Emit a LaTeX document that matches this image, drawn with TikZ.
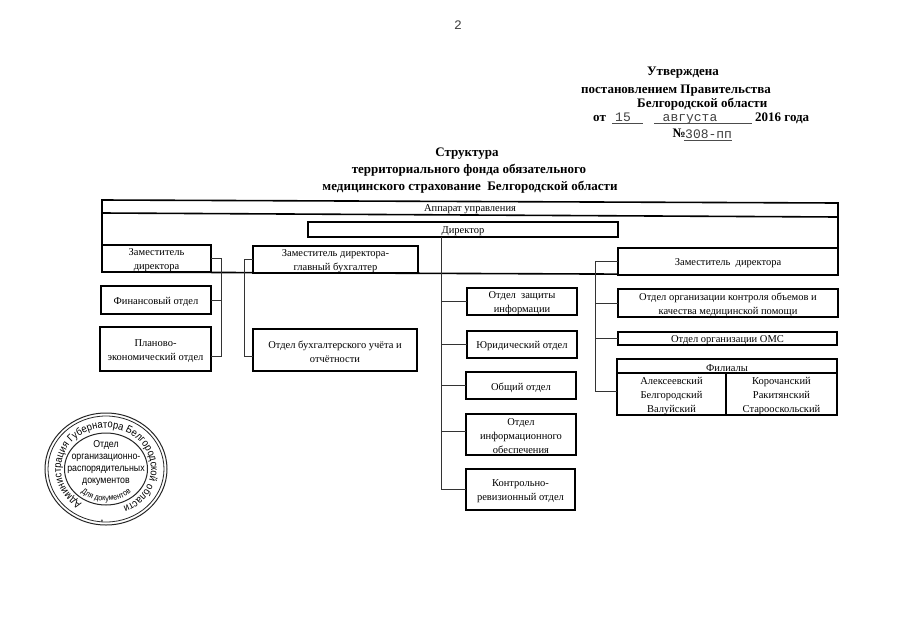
\documentclass[tikz,border=0pt]{standalone}
\usepackage{fontspec}
\setmainfont{Liberation Serif}
\newfontfamily\typed{Liberation Mono}
\newfontfamily\stampfont[FakeStretch=0.88]{Liberation Sans}
\usetikzlibrary{decorations.text}
\tikzset{
  bx/.style={draw=black,line width=1.7pt,fill=white,inner sep=0pt,outer sep=0pt},
  txt/.style={inner sep=0pt,align=center,font=\fontsize{10.5}{14}\selectfont},
  head/.style={inner sep=0pt,anchor=base,font=\fontsize{13}{14}\selectfont\bfseries},
  wire/.style={draw=black!80,line width=0.9pt},
  ink/.style={draw=black!85},
  typedtext/.style={inner sep=0pt,anchor=base,font=\fontsize{13}{14}\typed\selectfont,text=black!75},
  uline/.style={draw=black!70,line width=0.7pt}
}
\newcommand{\bxn}[6]{\node[bx,minimum width={(#4-#2)*1pt},minimum height={(#5-#3)*1pt}] (#1) at ({(#2+#4)/2},{(#3+#5)/2}) {};
\node[txt,yshift=-2pt] (#1t) at (#1.center) {#6};}
\begin{document}
\begin{tikzpicture}[x=1pt,y=-1pt]
\useasboundingbox[fill=white] (0,0) rectangle (905,640);
% header
\node[typedtext] (pg) at (458,29) {2};
\node[head] (h1) at (683,75) {Утверждена};
\node[head,anchor=base west] (h2) at (581,93) {постановлением Правительства};
\node[head,anchor=base west] (h3) at (637,107) {Белгородской области};
\node[head,anchor=base west] (h4a) at (593,121) {от};
\node[typedtext] (d1) at (623,121) {15};
\node[typedtext] (d2) at (690,121) {августа};
\node[head,anchor=base west] (h4b) at (755,121) {2016 года};
\node[head,anchor=base east] (n1) at (686,137) {№};
\node[typedtext,anchor=base west] (n2) at (685,138) {308-пп};
\coordinate (u1a) at (612,123); \coordinate (u1b) at (643,123);
\coordinate (u2a) at (654,123); \coordinate (u2b) at (752,123);
\coordinate (u3a) at (684,140); \coordinate (u3b) at (732,140);
\draw[uline] (u1a)--(u1b) (u2a)--(u2b) (u3a)--(u3b);
\node[head] (t1) at (467,156) {Структура};
\node[head] (t2) at (469,173) {территориального фонда обязательного};
\node[head] (t3) at (470,190) {медицинского страхование\ \ Белгородской области};
% frame
\coordinate (fa) at (102,200); \coordinate (fb) at (838,203);
\coordinate (fc) at (838,217); \coordinate (fd) at (102,213);
\coordinate (fe) at (838,275); \coordinate (ff) at (102,272);
\draw[line width=1.6pt,line join=miter] (fa)--(fb)--(fe)--(ff)--cycle;
\draw[line width=1.6pt] (fd)--(fc);
\node[txt] (app) at (470,209) {Аппарат управления};
% connectors
\coordinate (tr) at (441,236);
\coordinate (rb) at (595,260);
\coordinate (lb) at (221,258);
\coordinate (mb) at (244,258);
\coordinate (j1) at (211,356);
\coordinate (j2) at (253,356);
\coordinate (j3) at (466,431);
\coordinate (j4) at (617,391);
% boxes
\bxn{dir}{308}{222}{618}{237}{Директор}
\bxn{z1}{102}{245}{211}{272}{Заместитель\\директора}
\bxn{z2}{253}{246}{418}{273}{Заместитель директора-\\главный бухгалтер}
\bxn{z3}{618}{248}{838}{275}{Заместитель\ \ директора}
\bxn{fin}{101}{286}{211}{314}{Финансовый отдел}
\bxn{plan}{100}{327}{211}{371}{Планово-\\экономический отдел}
\bxn{buh}{253}{329}{417}{371}{Отдел бухгалтерского учёта и\\отчётности}
\bxn{zash}{467}{288}{577}{315}{Отдел\ \ защиты\\информации}
\bxn{yur}{467}{331}{577}{358}{Юридический отдел}
\bxn{obsh}{466}{372}{576}{399}{Общий отдел}
\bxn{info}{466}{414}{576}{455}{Отдел\\информационного\\обеспечения}
\bxn{kontr}{466}{469}{575}{510}{Контрольно-\\ревизионный отдел}
\bxn{okk}{618}{289}{838}{317}{Отдел организации контроля объемов и\\качества медицинской помощи}
\bxn{oms}{618}{332}{837}{345}{Отдел организации ОМС}
\bxn{fil}{617}{359}{837}{373}{Филиалы}
\bxn{fa}{617}{373}{726}{415}{Алексеевский\\Белгородский\\Валуйский}
\bxn{fk}{726}{373}{837}{415}{Корочанский\\Ракитянский\\Старооскольский}
% wires
\draw[wire] (dir.south -| tr) -- (tr |- kontr.west) -- (kontr.west);
\draw[wire] (tr |- zash.west) -- (zash.west);
\draw[wire] (tr |- yur.west) -- (yur.west);
\draw[wire] (tr |- obsh.west) -- (obsh.west);
\draw[wire] (tr |- j3) -- (j3);
\draw[wire] (z3.west) -- (rb |- z3.west) -- (rb |- j4) -- (j4);
\draw[wire] (rb |- okk.west) -- (okk.west);
\draw[wire] (rb |- oms.west) -- (oms.west);
\draw[wire] (z1.east) -- (lb |- z1.east) -- (lb |- j1) -- (j1);
\draw[wire] (lb |- fin.east) -- (fin.east);
\draw[wire] (z2.west) -- (mb |- z2.west) -- (mb |- j2) -- (j2);
% stamp
\coordinate (st) at (106,469);
\draw[ink,line width=1pt] (st) ellipse [x radius=61,y radius=56];
\draw[ink,line width=0.8pt] (st) ellipse [x radius=58,y radius=53];
\draw[ink,line width=1pt] (st) ellipse [x radius=41.5,y radius=36];
\path[postaction={decorate,decoration={text along path,text align=center,
  text={|\stampfont\fontsize{10.6}{11}\selectfont|Администрация Губернатора Белгородской области}}}]
  (st) ++(105:45 and 41) arc[start angle=105,end angle=445,x radius=45,y radius=41];
\node[inner sep=0pt] (dot) at (102,522) {\stampfont\fontsize{7}{7}\selectfont *};
\path[postaction={decorate,decoration={text along path,text align=center,
  text={|\stampfont\fontsize{8.2}{9}\selectfont|Для документов}}}]
  (st) ++(150:37 and 32) arc[start angle=150,end angle=30,x radius=37,y radius=32];
\node[inner sep=0pt,align=center,font=\stampfont\fontsize{10}{12}\selectfont] (stt) at (106,463) {Отдел\\организационно-\\распорядительных\\документов};
\end{tikzpicture}
\end{document}
